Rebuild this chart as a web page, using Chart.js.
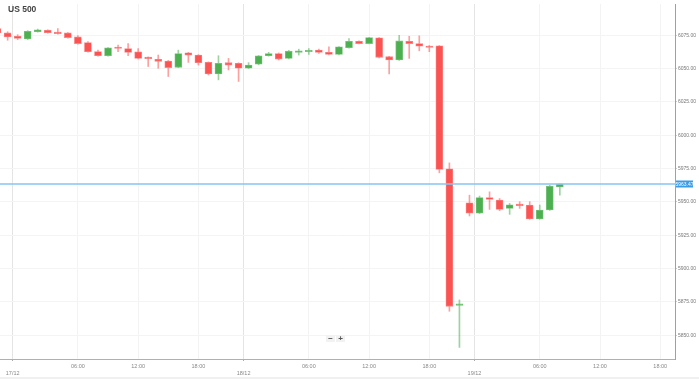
<!DOCTYPE html>
<html>
<head>
<meta charset="utf-8">
<script src="https://cdn.jsdelivr.net/npm/chart.js@4"></script>
<style>
  html, body { margin: 0; padding: 0; background: #fff; }
  #wrap { position: relative; width: 699px; height: 379px; overflow: hidden; }
  #title { position: absolute; left: 8px; top: 4px; font: bold 8.5px "Liberation Sans", Arial, sans-serif; color: #444; }
  #zoom { position: absolute; left: 326px; top: 335px; height: 7px; display: flex; gap: 1px; }
  #zoom span { display: block; width: 9px; height: 7px; background: #f2f2f2; color: #555; font: bold 8px/7px "Liberation Sans", Arial, sans-serif; text-align: center; }
  #bottom { position: absolute; left: 0; top: 377px; width: 699px; height: 2px; background: #f0f0f0; }
</style>
</head>
<body>
<div id="wrap">
  <canvas id="c" width="699" height="379"></canvas>
  <div id="title">US 500</div>
  <div id="zoom"><span>−</span><span>+</span></div>
  <div id="bottom"></div>
</div>
<script>
// Hourly candles, x = trading-hour slot (0 = 17/12 00:00; 23 slots per day)
const slots  = [-2,-1,0,1,2,3,4,5,6,7,8,9,10,11,12,13,14,15,16,17,18,19,20,21,22,23,24,25,26,27,28,29,30,31,32,33,34,35,36,37,38,39,40,41,42,43,44,45,46,47,48,49,50,51,52,53,54];
const opens  = [6080.0,6076.8,6074.3,6072.3,6077.7,6078.7,6077.2,6076.8,6073.8,6069.6,6062.9,6059.7,6065.9,6065.1,6062.7,6058.5,6057.0,6055.7,6051.0,6061.9,6060.2,6054.7,6046.1,6054.5,6054.0,6050.3,6053.3,6059.7,6061.4,6057.7,6062.2,6062.7,6063.9,6062.2,6060.7,6065.7,6070.5,6068.8,6073.1,6059.0,6056.5,6070.5,6068.8,6066.8,6067.1,5974.9,5872.3,5949.4,5941.5,5953.3,5951.4,5945.2,5947.9,5947.7,5937.3,5944.0,5961.3];
const highs  = [6081.4,6077.7,6075.5,6078.5,6079.7,6079.2,6080.0,6077.0,6074.8,6070.3,6063.9,6065.9,6067.6,6068.8,6065.1,6058.8,6060.2,6056.2,6063.9,6062.2,6060.5,6055.1,6059.7,6057.7,6054.4,6054.5,6059.9,6062.2,6061.8,6063.7,6064.6,6065.1,6064.6,6066.4,6066.6,6072.6,6070.8,6073.5,6073.3,6059.2,6075.0,6074.3,6074.6,6067.4,6067.4,5979.3,5876.5,5955.1,5954.4,5957.6,5952.6,5948.9,5950.2,5950.2,5947.7,5962.5,5963.6];
const lows   = [6076.2,6071.3,6071.8,6071.8,6077.4,6076.6,6075.9,6072.9,6068.3,6062.4,6059.4,6059.4,6062.7,6059.7,6057.3,6051.6,6050.3,6044.1,6050.7,6054.7,6052.7,6045.3,6041.6,6049.0,6040.4,6050.1,6052.9,6059.4,6056.5,6057.3,6060.2,6060.7,6061.4,6060.3,6060.3,6065.4,6068.5,6068.6,6058.1,6046.1,6056.2,6057.7,6063.4,6062.7,5971.9,5868.0,5840.9,5939.5,5941.3,5944.4,5943.5,5940.7,5945.2,5937.0,5937.0,5943.7,5955.1];
const closes = [6076.8,6073.8,6072.6,6078.0,6079.2,6077.0,6076.3,6073.3,6068.8,6062.7,6059.7,6065.7,6065.1,6062.2,6057.7,6057.5,6055.5,6050.8,6061.4,6060.2,6054.5,6046.1,6054.0,6052.7,6050.3,6052.7,6059.7,6061.4,6057.2,6063.1,6063.4,6063.4,6062.2,6060.7,6066.4,6070.5,6068.8,6073.3,6058.5,6056.5,6070.8,6068.8,6066.8,6065.9,5974.4,5871.7,5873.5,5941.5,5953.3,5951.9,5944.4,5947.9,5947.2,5937.3,5944.0,5961.8,5963.47];
const currentPrice = 5963.47;

const xTickSlots  = [-0.5, 6, 12, 18, 22.5, 29, 35, 41, 45.5, 52, 58, 64];
const xTickLabels = ['17/12','06:00','12:00','18:00','18/12','06:00','12:00','18:00','19/12','06:00','12:00','18:00'];
const yTicks = [5850, 5875, 5900, 5925, 5950, 5975, 6000, 6025, 6050, 6075];

const UP = '#4caf50', DOWN = '#fb5252';
const UP_B = '#7cc47e', DOWN_B = '#fd8585';
const UP_W = 'rgba(76,175,80,0.55)', DOWN_W = 'rgba(251,82,82,0.55)';
const isUp = i => closes[i] >= opens[i];

const bodies = slots.map((s, i) => ({ x: s, y: [opens[i], closes[i]] }));
const wicks  = slots.map((s, i) => ({ x: s, y: [lows[i], highs[i]] }));
const isDate = i => xTickLabels[i] && xTickLabels[i].indexOf('/') >= 0;

const priceLine = {
  id: 'priceLine',
  afterDatasetsDraw(chart) {
    const { ctx, chartArea, scales } = chart;
    const y = Math.round(scales.y.getPixelForValue(currentPrice));
    ctx.save();
    ctx.strokeStyle = '#86c5f0';
    ctx.lineWidth = 1.6;
    ctx.beginPath();
    ctx.moveTo(chartArea.left, y);
    ctx.lineTo(chartArea.right + 2, y);
    ctx.stroke();
    ctx.fillStyle = '#3a9be6';
    ctx.fillRect(chartArea.right + 1, y - 3.5, 17, 7);
    ctx.fillStyle = '#fff';
    ctx.font = '5px "Liberation Sans", Arial, sans-serif';
    ctx.textBaseline = 'middle';
    ctx.textAlign = 'center';
    ctx.fillText(currentPrice.toFixed(2), chartArea.right + 9.5, y + 0.3);
    ctx.restore();
  }
};

new Chart(document.getElementById('c'), {
  type: 'bar',
  data: {
    datasets: [
      {
        label: 'body',
        data: bodies,
        grouped: false,
        barThickness: 7,
        minBarLength: 1.5,
        backgroundColor: c => isUp(c.dataIndex) ? UP : DOWN,
        borderColor: c => isUp(c.dataIndex) ? UP_B : DOWN_B,
        borderWidth: 0.8,
        borderSkipped: false
      },
      {
        label: 'wick',
        data: wicks,
        grouped: false,
        barThickness: 1,
        backgroundColor: c => isUp(c.dataIndex) ? UP_W : DOWN_W,
        borderWidth: 0
      }
    ]
  },
  options: {
    responsive: false,
    animation: false,
    events: [],
    layout: { padding: 0 },
    plugins: { legend: { display: false }, tooltip: { enabled: false }, title: { display: false } },
    scales: {
      x: {
        type: 'linear',
        offset: false,
        min: -1.76,
        max: 65.47,
        afterBuildTicks: s => { s.ticks = xTickSlots.map(v => ({ value: v })); },
        afterFit: s => { s.height = 20; },
        border: { display: true, color: '#b0b0b0', width: 1 },
        grid: {
          offset: false,
          color: c => isDate(c.index) ? '#e4e4e4' : '#f3f3f3',
          lineWidth: 1,
          tickLength: 3,
          tickColor: c => isDate(c.index) ? '#aaa' : 'rgba(0,0,0,0)',
          tickBorderDash: [1, 1]
        },
        ticks: {
          autoSkip: false,
          maxRotation: 0,
          padding: 1,
          color: '#888',
          font: { size: 5.5, family: '"Liberation Sans", Arial, sans-serif', lineHeight: 1.25 },
          callback: (v, i) => isDate(i) ? ['', xTickLabels[i]] : xTickLabels[i]
        }
      },
      y: {
        position: 'right',
        min: 5832.2,
        max: 6098.5,
        afterBuildTicks: s => { s.ticks = yTicks.map(v => ({ value: v })); },
        afterFit: s => { s.width = 24; },
        border: { display: true, color: '#a0a0a0', width: 1 },
        grid: { color: '#f4f4f4', lineWidth: 1, tickLength: 2, tickColor: '#ccc' },
        ticks: {
          padding: 1,
          color: '#777',
          font: { size: 5, family: '"Liberation Sans", Arial, sans-serif' },
          callback: v => v.toFixed(2)
        }
      }
    }
  },
  plugins: [priceLine]
});
</script>
</body>
</html>
